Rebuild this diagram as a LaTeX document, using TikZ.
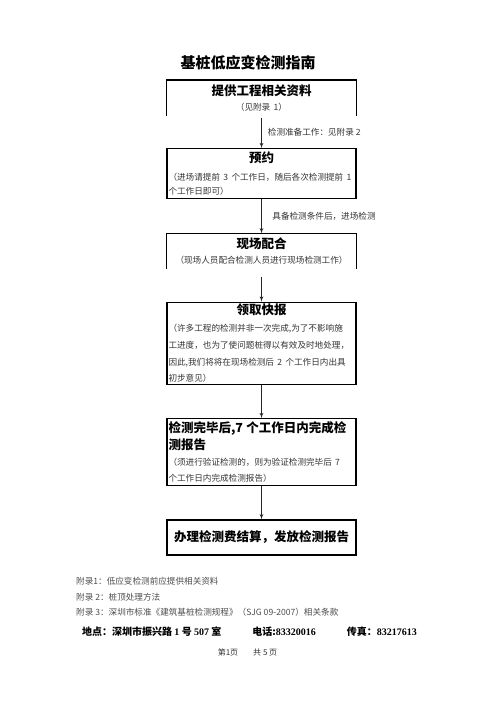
\documentclass[tikz,border=0pt]{standalone}
\usepackage{fontspec}
\setmainfont{Noto Sans CJK SC}
\newfontfamily\lat{Liberation Serif}
\usepackage{tikz}
\usetikzlibrary{positioning}
\usetikzlibrary{arrows}

\newcommand\ttlfont{\fontsize{12.5}{17}\selectfont\bfseries\color{black}}
\newcommand\subfont{\fontsize{8.6}{15.5}\selectfont\color{black!80}}
\newcommand\bdyfont[1][16.7]{\fontsize{8.6}{#1}\selectfont\color{black!80}}

\begin{document}
\begin{tikzpicture}[
x=1pt, y=-1pt,
box/.style ={rectangle, draw=black, line width=1.2pt,
  minimum width=189pt, text width=186pt, inner xsep=1.5pt, inner ysep=2pt},
openbox/.style ={box, draw=none},
sides/.style ={draw=black, line width=1.2pt},
line/.style ={draw, black!85, line width=0.8pt, -latex'},
note/.style ={font=\fontsize{8.6}{10}\selectfont, text=black!80, inner sep=0pt},
node distance=33pt
]
\useasboundingbox (0,0) rectangle (496,702);

\node[font=\fontsize{15}{18}\selectfont\bfseries] (biaoti) at (248,63) {基桩低应变检测指南};

% flow boxes
\node[openbox, minimum height=35pt, anchor=north] (tigong) at (261.5,80)
  {{\centering\ttlfont 提供工程相关资料\par}{\centering\subfont （见附录~1）\par}};
\node[box, minimum height=50pt] (yuyue) [below=32pt of tigong]
  {{\centering\ttlfont 预约\par}\vspace{3.5pt}%
   {\bdyfont[14]（进场请提前~3~个工作日，随后各次检测提前~1\\个工作日即可）\par}};
\node[openbox, minimum height=34pt] (xianchang) [below=34pt of yuyue]
  {{\centering\ttlfont 现场配合\par}{\centering\subfont （现场人员配合检测人员进行现场检测工作）\par}};
\node[box, minimum height=82pt] (kuaibao) [below=of xianchang]
  {{\centering\ttlfont 领取快报\par}%
   {\bdyfont（许多工程的检测并非一次完成,为了不影响施\\工进度，也为了使问题桩得以有效及时地处理，\\因此,我们将将在现场检测后~2~个工作日内出具\\初步意见）\par}};
\node[box, minimum height=67pt] (baogao) [below=of kuaibao]
  {{\ttlfont 检测完毕后,7~个工作日内完成检\\测报告\par}%
   {\bdyfont[16]（须进行验证检测的，则为验证检测完毕后~7\\个工作日内完成检测报告）\par}};
\node[box, minimum height=35pt] (jiesuan) [below=of baogao]
  {{\centering\ttlfont 办理检测费结算，发放检测报告\par}};

\draw[sides] (tigong.south west) |- (tigong.north east) -- (tigong.south east);
\draw[sides] (xianchang.south west) |- (xianchang.north east) -- (xianchang.south east);

\path[line]
(tigong) edge[shorten <=2pt] node[note, right=6pt] {检测准备工作：见附录~2} (yuyue)
(yuyue) edge node[note, right=10.5pt] {具备检测条件后，进场检测} (xianchang)
(xianchang) edge[shorten <=8pt] (kuaibao)
(kuaibao) edge (baogao)
(baogao) edge (jiesuan)
;

% footer
\node[anchor=west, inner sep=0pt, align=left, font=\fontsize{8.6}{15.5}\selectfont, text=black!70] (fulu) at (76,597)
  {附录1：低应变检测前应提供相关资料\\附录~2：桩顶处理方法\\附录~3：深圳市标准《建筑基桩检测规程》（SJG 09-2007）相关条款};
\node[anchor=west, inner sep=0pt, font=\fontsize{10}{12}\selectfont\bfseries] (dizhi) at (82,632)
  {地点：深圳市振兴路 {\lat 1} 号 {\lat 507} 室\hspace{31pt}电话:{\lat 83320016}\hspace{31pt}传真：{\lat 83217613}};
\node[font=\fontsize{8}{10}\selectfont, text=black!80] (yema) at (247.5,652) {第1页\hspace{15pt}共~5~页};
\end{tikzpicture}
\end{document}
